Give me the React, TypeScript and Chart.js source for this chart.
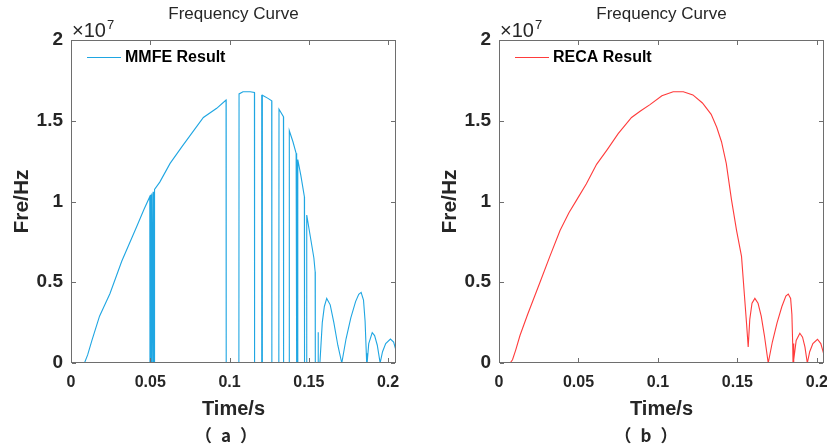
import React, { useEffect, useRef } from 'react';
import { Chart, registerables } from 'chart.js';

Chart.register(...registerables);

const FONT = '"Liberation Sans", Arial, Helvetica, sans-serif';
const CJK = '"Noto Sans CJK SC", "Noto Sans CJK JP", "Noto Sans CJK TC", sans-serif';

// axis ticks (frequency in units of 10^7 Hz)
const xTickValues = [0, 0.05, 0.1, 0.15, 0.2];
const xTickLabels = ['0', '0.05', '0.1', '0.15', '0.2'];
const yTickValues = [0, 0.5, 1, 1.5, 2];
const yTickLabels = ['0', '0.5', '1', '1.5', '2'];

// (a) MMFE result
const mmfeTime = [
  0, 0.0085, 0.0105, 0.0132, 0.018, 0.0246, 0.032, 0.0414, 0.046, 0.0497,
  0.0498, 0.0502, 0.0503, 0.0505, 0.0509, 0.051, 0.0512, 0.0517, 0.0518, 0.052,
  0.0525, 0.0527, 0.056, 0.0625, 0.07, 0.0775, 0.0835, 0.0919, 0.0978, 0.0979,
  0.1059, 0.106, 0.1085, 0.113, 0.1157, 0.1158, 0.1201, 0.1202, 0.1204, 0.1206,
  0.1207, 0.124, 0.1266, 0.1267, 0.1311, 0.1312, 0.134, 0.1341, 0.1376, 0.1377,
  0.14, 0.142, 0.1421, 0.1424, 0.1425, 0.1427, 0.143, 0.1431, 0.145, 0.1472,
  0.1473, 0.1486, 0.1487, 0.151, 0.1532, 0.154, 0.1541, 0.1558, 0.1559, 0.156,
  0.157, 0.1585, 0.1598, 0.1613, 0.1635, 0.1658, 0.1683, 0.1708, 0.1735, 0.1765,
  0.1795, 0.1815, 0.183, 0.1845, 0.1855, 0.1865, 0.1866, 0.1868, 0.1878, 0.19,
  0.1915, 0.1932, 0.195, 0.1965, 0.1985, 0.2015, 0.2035, 0.2055,
];
const mmfeFreq = [
  0, 0, 0.05, 0.14, 0.29, 0.43, 0.63, 0.844, 0.95, 1.03,
  0, 0, 1.04, 0, 0, 1.05, 0, 0, 1.06, 0,
  0, 1.075, 1.12, 1.236, 1.34, 1.44, 1.52, 1.577, 1.628, 0,
  0, 1.666, 1.68, 1.68, 1.675, 0, 0, 1.66, 0, 0,
  1.658, 1.64, 1.624, 0, 0, 1.571, 1.525, 0, 0, 1.438,
  1.37, 1.298, 0, 0, 1.285, 0, 0, 1.26, 1.16, 1.03,
  0, 0, 0.916, 0.78, 0.65, 0.565, 0, 0, 0.19, 0,
  0, 0.25, 0.35, 0.4, 0.36, 0.25, 0.11, 0, 0.15, 0.28,
  0.38, 0.425, 0.437, 0.39, 0.26, 0, 0.06, 0, 0.12, 0.188,
  0.17, 0.11, 0, 0.07, 0.12, 0.148, 0.13, 0.06,
];

// (b) RECA result
const recaTime = [
  0, 0.007, 0.0085, 0.0105, 0.0132, 0.018, 0.0258, 0.032, 0.0384, 0.044,
  0.0489, 0.055, 0.0614, 0.068, 0.075, 0.0834, 0.089, 0.095, 0.1025, 0.1096,
  0.116, 0.122, 0.128, 0.1335, 0.137, 0.14, 0.143, 0.1463, 0.1495, 0.1526,
  0.1545, 0.1558, 0.1568, 0.1578, 0.1592, 0.161, 0.163, 0.165, 0.167, 0.1694,
  0.172, 0.175, 0.178, 0.1805, 0.182, 0.1835, 0.1843, 0.1848, 0.185, 0.1853,
  0.1856, 0.187, 0.1893, 0.191, 0.1925, 0.194, 0.1955, 0.1975, 0.2004, 0.2025,
  0.2045,
];
const recaFreq = [
  0, 0, 0.02, 0.08, 0.17, 0.3, 0.5, 0.66, 0.82, 0.93,
  1.01, 1.11, 1.23, 1.32, 1.42, 1.52, 1.56, 1.6, 1.655, 1.68,
  1.68, 1.66, 1.61, 1.54, 1.46, 1.37, 1.236, 1.01, 0.82, 0.66,
  0.41, 0.24, 0.1, 0.27, 0.37, 0.4, 0.37, 0.29, 0.17, 0,
  0.13, 0.25, 0.35, 0.415, 0.427, 0.4, 0.3, 0.12, 0, 0.12,
  0.02, 0.14, 0.184, 0.16, 0.1, 0, 0.07, 0.12, 0.147, 0.12,
  0.05,
];

const CANVAS_W = 420;
const CANVAS_H = 446;
const PLOT_LEFT = 71;
const PLOT_RIGHT = 396;
const PLOT_TOP = 40;
const PLOT_BOTTOM = 363;

type PanelProps = {
  left: number;
  time: number[];
  freq: number[];
  color: string;
  legend: string;
  xMax: number;
};

function Panel({ left, time, freq, color, legend, xMax }: PanelProps) {
  const ref = useRef<HTMLCanvasElement | null>(null);

  useEffect(() => {
    const canvas = ref.current;
    if (!canvas) return;

    const annot = {
      id: 'annot',
      afterDraw(chart: any) {
        const { ctx, chartArea: a } = chart;
        const xs = chart.scales.x;
        const ys = chart.scales.y;
        ctx.save();
        // axes box
        ctx.strokeStyle = '#6e6e6e';
        ctx.lineWidth = 1;
        ctx.strokeRect(a.left + 0.5, a.top + 0.5, a.right - a.left - 1, a.bottom - a.top - 1);
        // inner ticks
        ctx.beginPath();
        xTickValues.forEach((v) => {
          const px = Math.round(xs.getPixelForValue(v)) + 0.5;
          ctx.moveTo(px, a.bottom - 1);
          ctx.lineTo(px, a.bottom - 5);
          ctx.moveTo(px, a.top + 1);
          ctx.lineTo(px, a.top + 5);
        });
        yTickValues.forEach((v) => {
          const py = Math.round(ys.getPixelForValue(v)) + 0.5;
          ctx.moveTo(a.left + 1, py);
          ctx.lineTo(a.left + 5, py);
          ctx.moveTo(a.right - 1, py);
          ctx.lineTo(a.right - 5, py);
        });
        ctx.stroke();

        const cx = (a.left + a.right) / 2;
        ctx.fillStyle = '#262626';
        ctx.textBaseline = 'middle';
        // title
        ctx.textAlign = 'center';
        ctx.font = `normal 17px ${FONT}`;
        ctx.fillText('Frequency Curve', cx, 14);
        // exponent
        ctx.textAlign = 'left';
        ctx.textBaseline = 'alphabetic';
        ctx.font = `normal 20px ${FONT}`;
        ctx.fillText('\u00d710', a.left + 1, 37);
        const w = ctx.measureText('\u00d710').width;
        ctx.font = `normal 13px ${FONT}`;
        ctx.fillText('7', a.left + 2 + w, 29);
        // x label
        ctx.textAlign = 'center';
        ctx.textBaseline = 'middle';
        ctx.font = `bold 20px ${FONT}`;
        ctx.fillText('Time/s', cx, 409);
        // y label
        ctx.save();
        ctx.translate(22, (a.top + a.bottom) / 2);
        ctx.rotate(-Math.PI / 2);
        ctx.font = `bold 21px ${FONT}`;
        ctx.fillText('Fre/Hz', 0, 0);
        ctx.restore();
        // legend
        ctx.strokeStyle = color;
        ctx.beginPath();
        ctx.moveTo(a.left + 16, 57.5);
        ctx.lineTo(a.left + 50, 57.5);
        ctx.stroke();
        ctx.fillStyle = '#000';
        ctx.textAlign = 'left';
        ctx.font = `bold 16px ${FONT}`;
        ctx.fillText(legend, a.left + 54, 58);
        ctx.restore();
      },
    };

    const chart = new Chart(canvas, {
      type: 'line',
      data: {
        datasets: [
          {
            label: legend,
            data: time.map((t, i) => ({ x: t, y: freq[i] })),
            borderColor: color,
            backgroundColor: color,
            borderWidth: 1.1,
            pointRadius: 0,
            tension: 0,
            fill: false,
          },
        ],
      },
      options: {
        responsive: false,
        animation: false,
        layout: { padding: { left: 0, top: PLOT_TOP, right: CANVAS_W - PLOT_RIGHT, bottom: 0 } },
        plugins: { legend: { display: false }, title: { display: false }, tooltip: { enabled: false } },
        scales: {
          x: {
            type: 'linear',
            min: 0,
            max: xMax,
            grid: { display: false, drawTicks: false },
            border: { display: false },
            afterFit: (s: any) => {
              s.height = CANVAS_H - PLOT_BOTTOM;
            },
            afterBuildTicks: (s: any) => {
              s.ticks = xTickValues.map((v) => ({ value: v }));
            },
            ticks: {
              autoSkip: false,
              maxRotation: 0,
              padding: 10,
              color: '#262626',
              font: { family: FONT, size: 16, weight: 'bold' },
              callback: (_v: any, i: number) => xTickLabels[i],
            },
          },
          y: {
            type: 'linear',
            min: 0,
            max: 2,
            grid: { display: false, drawTicks: false },
            border: { display: false },
            afterFit: (s: any) => {
              s.width = PLOT_LEFT;
            },
            afterBuildTicks: (s: any) => {
              s.ticks = yTickValues.map((v) => ({ value: v }));
            },
            ticks: {
              autoSkip: false,
              padding: 8,
              color: '#262626',
              font: { family: FONT, size: 19, weight: 'bold' },
              callback: (_v: any, i: number) => yTickLabels[i],
            },
          },
        },
      },
      plugins: [annot],
    } as any);

    return () => chart.destroy();
  }, [time, freq, color, legend, xMax]);

  return (
    <canvas
      ref={ref}
      width={CANVAS_W}
      height={CANVAS_H}
      style={{ position: 'absolute', left, top: 0, width: CANVAS_W, height: CANVAS_H, display: 'block' }}
    />
  );
}

const captionStyle = (center: number): React.CSSProperties => ({
  position: 'absolute',
  left: center - 50,
  width: 100,
  top: 423,
  height: 24,
  lineHeight: '24px',
  textAlign: 'center',
  fontFamily: CJK,
  fontWeight: 700,
  fontSize: 17,
  letterSpacing: 9,
  paddingLeft: 9,
  boxSizing: 'border-box',
  color: '#262626',
  whiteSpace: 'nowrap',
});

export default function App() {
  return (
    <div
      style={{
        position: 'absolute',
        left: 0,
        top: 0,
        width: 827,
        height: 446,
        overflow: 'hidden',
        background: '#fff',
      }}
    >
      <Panel left={0} time={mmfeTime} freq={mmfeFreq} color="#1fa6e2" legend="MMFE Result" xMax={0.205} />
      <Panel left={428} time={recaTime} freq={recaFreq} color="#ff3b3b" legend="RECA Result" xMax={0.2045} />
      <div style={captionStyle(226)}>（a）</div>
      <div style={captionStyle(646)}>（b）</div>
    </div>
  );
}
